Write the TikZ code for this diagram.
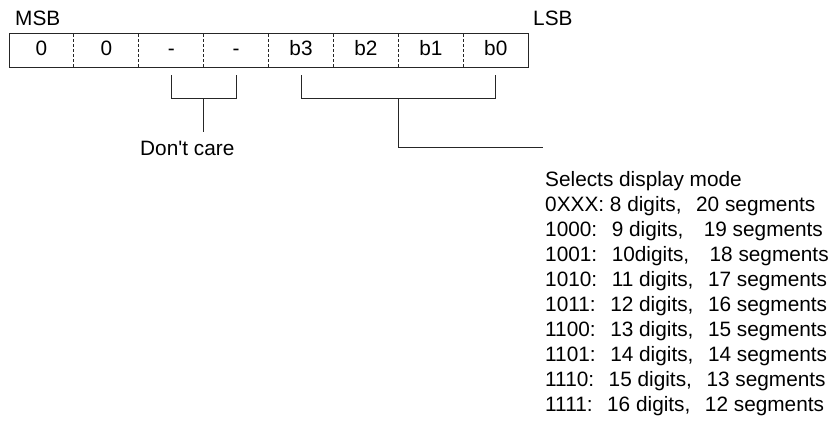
\documentclass[tikz,border=0pt]{standalone}
\usepackage{fontspec}
\setmainfont{Liberation Sans}
\usetikzlibrary{calc}
% slightly wider gap used between the table columns
\newcommand\colgap{\hspace{3pt}}
\begin{document}
\begin{tikzpicture}[x=1pt,y=-1pt,
  cell/.style={minimum width=64.9pt, minimum height=33pt, inner sep=0pt, outer sep=0pt},
  lbl/.style={inner sep=0pt, font=\fontsize{20.8}{25}\selectfont},
  wire/.style={line width=1pt, black!85},
  divider/.style={line width=0.9pt, black!85, dash pattern=on 3pt off 2pt}]
\useasboundingbox (0,0) rectangle (834,420);

% register cells, bit 7 (MSB) on the left
\foreach \i/\t [count=\k from 0] in {7/0,6/0,5/-,4/-,3/b3,2/b2,1/b1,0/b0} {
  \node[cell] (c\i) at (9+32.45+64.9*\k, 50.5) {};
  \node[lbl, anchor=base] (t\i) at ($(c\i.center)+(0,5.5)$) {\t};
}
\draw[wire] (c7.north west) rectangle (c0.south east);
\foreach \i in {7,6,5,4,3,2,1}
  \draw[divider] (c\i.north east) -- (c\i.south east);

\node[lbl, anchor=base west] (msb) at (15,26) {MSB};
\node[lbl, anchor=base west] (lsb) at (533,26) {LSB};

% bracket over the unused bits
\node[lbl, anchor=base west, inner ysep=8pt] (dc) at (140,155) {Don\textquotesingle t care};
\coordinate (dcmid) at ($(c5.south east)+(0,31)$);
\draw[wire] ($(c5.south)+(0,8)$) |- ($(c4.south)+(0,31)$) -- ($(c4.south)+(0,8)$);
\draw[wire] (dcmid) -- (dcmid |- dc.north);

% bracket over the mode bits
\coordinate (selmid) at ($(c2.south east)+(0,31)$);
\coordinate (selend) at (543,147);
\draw[wire] ($(c3.south)+(0,8)$) |- ($(c0.south)+(0,31)$) -- ($(c0.south)+(0,8)$);
\draw[wire] (selmid) |- (selend);

% display mode table
\foreach \s [count=\k from 0] in {
  Selects display mode,
  0XXX: 8 digits{,}~~\colgap20 segments,
  1000:~~\colgap9 digits{,}~~~\colgap19 segments,
  1001:~~\colgap10digits{,}~~~\colgap18 segments,
  1010:~~\colgap11 digits{,}~~\colgap17 segments,
  1011:~~\colgap12 digits{,}~~\colgap16 segments,
  1100:~~\colgap13 digits{,}~~\colgap15 segments,
  1101:~~\colgap14 digits{,}~~\colgap14 segments,
  1110:~~\colgap15 digits{,}~~\colgap13 segments,
  1111:~~\colgap16 digits{,}~~\colgap12 segments}
  \node[lbl, anchor=base west] (m\k) at (545,186+25*\k) {\s};
\end{tikzpicture}
\end{document}
